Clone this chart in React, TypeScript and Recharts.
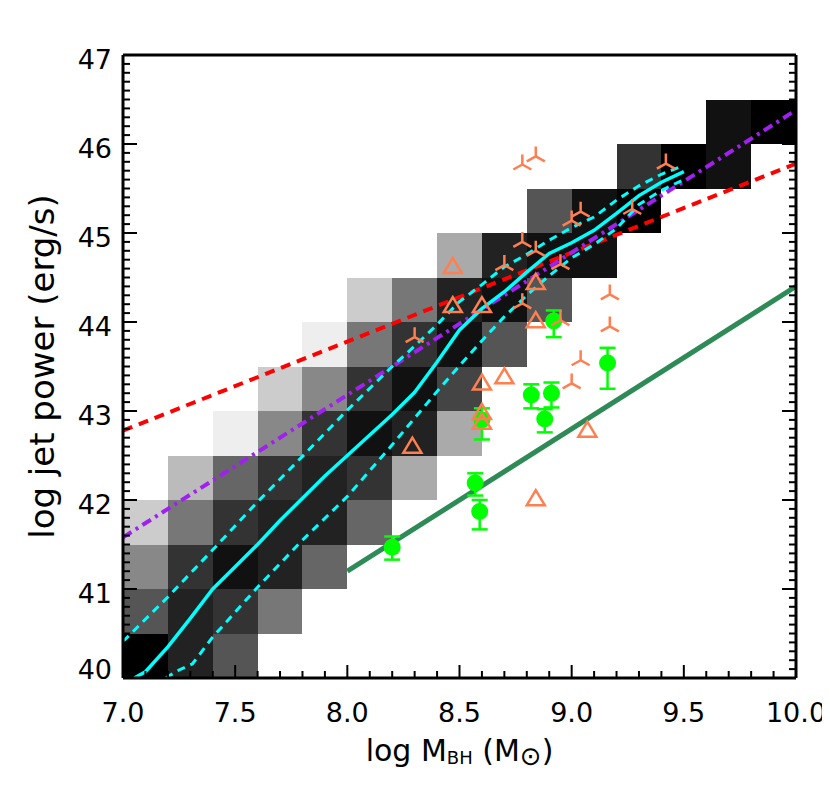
import React from "react";
import {
  ComposedChart,
  XAxis,
  YAxis,
  Line,
  Scatter,
  ErrorBar,
  ReferenceArea,
  Label,
} from "recharts";

const FONT = "'DejaVu Sans', sans-serif";

// 2D histogram of the simulated sample: 0.2 dex in mass, 0.5 dex in power
const binLeft = [7.0, 7.2, 7.4, 7.6, 7.8, 8.0, 8.2, 8.4, 8.6, 8.8, 9.0, 9.2, 9.4, 9.6, 9.8];
const binBottoms = [
  [40, 40.5, 41, 41.5],
  [40, 40.5, 41, 41.5, 42],
  [40, 40.5, 41, 41.5, 42, 42.5],
  [40.5, 41, 41.5, 42, 42.5, 43],
  [41, 41.5, 42, 42.5, 43, 43.5],
  [41.5, 42, 42.5, 43, 43.5, 44],
  [42, 42.5, 43, 43.5, 44],
  [42.5, 43, 43.5, 44, 44.5],
  [43.5, 44, 44.5],
  [44, 44.5, 45],
  [44.5, 45],
  [45, 45.5],
  [45.5],
  [45.5, 46],
  [46],
];
const binGray = [
  [0x00, 0x55, 0x88, 0xcc],
  [0x22, 0x22, 0x33, 0x77, 0xbb],
  [0x55, 0x33, 0x11, 0x33, 0x66, 0xee],
  [0x77, 0x22, 0x22, 0x33, 0x88, 0xcc],
  [0x66, 0x22, 0x22, 0x33, 0x88, 0xee],
  [0x66, 0x33, 0x11, 0x33, 0x77, 0xcc],
  [0xaa, 0x22, 0x11, 0x33, 0x77],
  [0xaa, 0x44, 0x11, 0x22, 0xaa],
  [0x55, 0x11, 0x22],
  [0x55, 0x11, 0x55],
  [0x11, 0x11],
  [0x00, 0x33],
  [0x00],
  [0x11, 0x11],
  [0x00],
];

// median and 1-sigma envelope (cyan)
const medX = [7.05, 7.1, 7.2, 7.3, 7.4, 7.5, 7.6, 7.7, 7.8, 7.9, 8.0, 8.1, 8.2, 8.3, 8.4, 8.5, 8.6, 8.7, 8.8, 8.9, 9.0, 9.1, 9.2, 9.3, 9.4, 9.5];
const medY = [40.0, 40.07, 40.35, 40.67, 41.0, 41.25, 41.5, 41.77, 42.02, 42.27, 42.5, 42.73, 42.96, 43.21, 43.55, 43.91, 44.15, 44.34, 44.56, 44.77, 44.89, 45.03, 45.22, 45.42, 45.57, 45.69];
const upX = [7.0, 7.2, 7.4, 7.6, 7.8, 8.0, 8.2, 8.3, 8.4, 8.5, 8.6, 8.7, 8.8, 8.9, 9.0, 9.1, 9.2, 9.3, 9.4, 9.5];
const upY = [40.41, 40.91, 41.44, 41.98, 42.49, 43.01, 43.5, 43.73, 43.97, 44.23, 44.42, 44.62, 44.76, 44.92, 45.06, 45.18, 45.37, 45.53, 45.66, 45.76];
const loX = [7.19, 7.25, 7.31, 7.4, 7.6, 7.8, 8.0, 8.2, 8.3, 8.4, 8.5, 8.6, 8.7, 8.8, 8.9, 9.0, 9.1, 9.2, 9.3, 9.4, 9.5];
const loY = [40.0, 40.09, 40.16, 40.46, 41.02, 41.55, 42.04, 42.62, 42.92, 43.22, 43.51, 43.79, 44.06, 44.3, 44.52, 44.72, 44.87, 45.05, 45.32, 45.48, 45.6];

// straight relations
const redX = [7.0, 10.0];
const redY = [42.78, 45.78];
const purpleX = [7.0, 10.0];
const purpleY = [41.58, 46.38];
const greenX = [8.0, 10.0];
const greenY = [41.2, 44.4];

// observed sources with error bars (green)
const obsX = [8.2, 8.57, 8.59, 8.6, 8.82, 8.88, 8.91, 8.92, 9.16];
const obsY = [41.47, 42.19, 41.87, 42.9, 43.18, 42.91, 43.2, 44.01, 43.54];
const obsErrLo = [0.14, 0.14, 0.2, 0.22, 0.15, 0.15, 0.16, 0.18, 0.29];
const obsErrHi = [0.12, 0.11, 0.13, 0.13, 0.12, 0.11, 0.12, 0.12, 0.17];

// open triangles
const triX = [8.29, 8.47, 8.47, 8.6, 8.84, 8.84, 8.7, 8.6, 8.6, 8.6, 9.07, 8.84];
const triY = [42.61, 44.63, 44.19, 44.19, 44.45, 44.02, 43.39, 43.32, 42.99, 42.88, 42.79, 42.02];

// three-arm symbols
const armX = [8.3, 8.7, 8.78, 8.78, 8.78, 8.84, 8.84, 8.95, 8.95, 9.0, 9.04, 9.0, 9.04, 9.17, 9.17, 9.27, 9.42];
const armY = [43.83, 44.64, 44.21, 44.9, 45.77, 44.8, 45.86, 44.65, 44.02, 45.14, 45.24, 43.31, 43.57, 44.31, 43.95, 45.27, 45.78];

const xMajor = [7.0, 7.5, 8.0, 8.5, 9.0, 9.5, 10.0];
const yMajor = [40, 41, 42, 43, 44, 45, 46, 47];
const xTicks = Array.from({ length: 31 }, (_, i) => Math.round((7 + i * 0.1) * 10) / 10);
const yTicks = Array.from({ length: 71 }, (_, i) => Math.round((40 + i * 0.1) * 10) / 10);

const pts = (xs: number[], ys: number[]) => xs.map((x, i) => ({ x, y: ys[i] }));
const isMajor = (v: number, list: number[]) => list.some((m) => Math.abs(m - v) < 1e-6);

const cells = binLeft.flatMap((x0, c) =>
  binBottoms[c].map((y0, r) => {
    const g = binGray[c][r].toString(16).padStart(2, "0");
    return { x1: x0, x2: x0 + 0.2, y1: y0, y2: y0 + 0.5, fill: `#${g}${g}${g}` };
  })
);

const obsData = obsX.map((x, i) => ({ x, y: obsY[i], err: [obsErrLo[i], obsErrHi[i]] }));

const BottomTick = (p: any) => {
  const major = isMajor(p.payload.value, xMajor);
  return (
    <g>
      <line x1={p.x} x2={p.x} y1={p.y} y2={p.y - (major ? 13 : 7)} stroke="#000" strokeWidth={2} />
      {major && (
        <text x={p.x} y={p.y + 34} textAnchor="middle" dominantBaseline="central" fontFamily={FONT} fontSize={27} fill="#000">
          {p.payload.value.toFixed(1)}
        </text>
      )}
    </g>
  );
};

const TopTick = (p: any) => {
  const major = isMajor(p.payload.value, xMajor);
  return <line x1={p.x} x2={p.x} y1={p.y} y2={p.y + (major ? 13 : 7)} stroke="#000" strokeWidth={2} />;
};

const LeftTick = (p: any) => {
  const major = isMajor(p.payload.value, yMajor);
  const v = p.payload.value;
  return (
    <g>
      <line x1={p.x} x2={p.x + (major ? 14 : 7)} y1={p.y} y2={p.y} stroke="#000" strokeWidth={2} />
      {major && (
        <text x={p.x - 11} y={p.y + (v === 40 ? -9 : 4)} textAnchor="end" dominantBaseline="central" fontFamily={FONT} fontSize={27} fill="#000">
          {v}
        </text>
      )}
    </g>
  );
};

const RightTick = (p: any) => {
  const major = isMajor(p.payload.value, yMajor);
  return <line x1={p.x} x2={p.x - (major ? 14 : 7)} y1={p.y} y2={p.y} stroke="#000" strokeWidth={2} />;
};

const XTitle = (p: any) => {
  const vb = p.viewBox;
  const cx = vb.x + vb.width / 2;
  return (
    <text x={cx} y={vb.y + 72} textAnchor="middle" dominantBaseline="central" fontFamily={FONT} fontSize={30} fill="#000">
      log M
      <tspan fontSize={18} dy={7}>BH</tspan>
      <tspan dy={-7}>{" (M"}</tspan>
      <tspan fontSize={26} dy={6}>⊙</tspan>
      <tspan dy={-6}>)</tspan>
    </text>
  );
};

const YTitle = (p: any) => {
  const vb = p.viewBox;
  const x = vb.x + vb.width - 81;
  const y = vb.y + vb.height / 2;
  return (
    <text x={x} y={y} transform={`rotate(-90 ${x} ${y})`} textAnchor="middle" dominantBaseline="central" fontFamily={FONT} fontSize={34} fill="#000">
      log jet power (erg/s)
    </text>
  );
};

const TriangleShape = (p: any) => {
  const { cx, cy } = p;
  return (
    <polygon
      points={`${cx},${cy - 8} ${cx - 9},${cy + 7} ${cx + 9},${cy + 7}`}
      fill="none"
      stroke="#ff7f50"
      strokeWidth={2.5}
      strokeLinejoin="miter"
    />
  );
};

const ArmShape = (p: any) => {
  const { cx, cy } = p;
  return (
    <path
      d={`M${cx},${cy} L${cx},${cy - 10} M${cx},${cy} L${cx - 9},${cy + 5} M${cx},${cy} L${cx + 9},${cy + 5}`}
      fill="none"
      stroke="#ff7f50"
      strokeWidth={2.5}
    />
  );
};

const DotShape = (p: any) => <circle cx={p.cx} cy={p.cy} r={8.5} fill="#00ff00" />;

export default function App() {
  return (
    <div style={{ width: 822, height: 770 }}>
      <ComposedChart width={822} height={770} margin={{ top: 37, right: 24, bottom: 40, left: 55 }}>
        <XAxis
          xAxisId="x"
          dataKey="x"
          type="number"
          domain={[7, 10]}
          allowDataOverflow
          ticks={xTicks}
          interval={0}
          height={60}
          tickSize={0}
          tickMargin={0}
          tickLine={false}
          tick={BottomTick}
          axisLine={{ stroke: "#000", strokeWidth: 3 }}
        >
          <Label content={XTitle} />
        </XAxis>
        <XAxis
          xAxisId="xt"
          orientation="top"
          type="number"
          domain={[7, 10]}
          allowDataOverflow
          ticks={xTicks}
          interval={0}
          height={10}
          tickSize={0}
          tickMargin={0}
          tickLine={false}
          tick={TopTick}
          axisLine={{ stroke: "#000", strokeWidth: 3 }}
        />
        <YAxis
          yAxisId="y"
          dataKey="y"
          type="number"
          domain={[40, 47]}
          allowDataOverflow
          ticks={yTicks}
          interval={0}
          width={60}
          tickSize={0}
          tickMargin={0}
          tickLine={false}
          tick={LeftTick}
          axisLine={{ stroke: "#000", strokeWidth: 3 }}
        >
          <Label content={YTitle} />
        </YAxis>
        <YAxis
          yAxisId="yr"
          orientation="right"
          type="number"
          domain={[40, 47]}
          allowDataOverflow
          ticks={yTicks}
          interval={0}
          width={10}
          tickSize={0}
          tickMargin={0}
          tickLine={false}
          tick={RightTick}
          axisLine={{ stroke: "#000", strokeWidth: 3 }}
        />

        {cells.map((c, i) => (
          <ReferenceArea
            key={`cell-${i}`}
            xAxisId="x"
            yAxisId="y"
            x1={c.x1}
            x2={c.x2}
            y1={c.y1}
            y2={c.y2}
            fill={c.fill}
            fillOpacity={1}
            stroke="none"
            shapeRendering="crispEdges"
          />
        ))}

        <Line data={pts(redX, redY)} xAxisId="x" yAxisId="y" dataKey="y" type="linear" stroke="#ff0000" strokeWidth={4} strokeDasharray="10 7" dot={false} activeDot={false} isAnimationActive={false} />
        <Line data={pts(purpleX, purpleY)} xAxisId="x" yAxisId="y" dataKey="y" type="linear" stroke="#a020f0" strokeWidth={4} strokeDasharray="10 5 3 5" dot={false} activeDot={false} isAnimationActive={false} />
        <Line data={pts(greenX, greenY)} xAxisId="x" yAxisId="y" dataKey="y" type="linear" stroke="#2e8b57" strokeWidth={5} dot={false} activeDot={false} isAnimationActive={false} />
        <Line data={pts(upX, upY)} xAxisId="x" yAxisId="y" dataKey="y" type="linear" stroke="#00ffff" strokeWidth={3} strokeDasharray="8 6" dot={false} activeDot={false} isAnimationActive={false} />
        <Line data={pts(loX, loY)} xAxisId="x" yAxisId="y" dataKey="y" type="linear" stroke="#00ffff" strokeWidth={3} strokeDasharray="8 6" dot={false} activeDot={false} isAnimationActive={false} />
        <Line data={pts(medX, medY)} xAxisId="x" yAxisId="y" dataKey="y" type="linear" stroke="#00ffff" strokeWidth={3.5} dot={false} activeDot={false} isAnimationActive={false} />

        <Scatter data={obsData} xAxisId="x" yAxisId="y" dataKey="y" fill="#00ff00" shape={DotShape} isAnimationActive={false}>
          <ErrorBar dataKey="err" direction="y" width={8} stroke="#00ff00" strokeWidth={2.5} isAnimationActive={false} />
        </Scatter>
        <Scatter data={pts(triX, triY)} xAxisId="x" yAxisId="y" dataKey="y" shape={TriangleShape} isAnimationActive={false} />
        <Scatter data={pts(armX, armY)} xAxisId="x" yAxisId="y" dataKey="y" shape={ArmShape} isAnimationActive={false} />
      </ComposedChart>
    </div>
  );
}
